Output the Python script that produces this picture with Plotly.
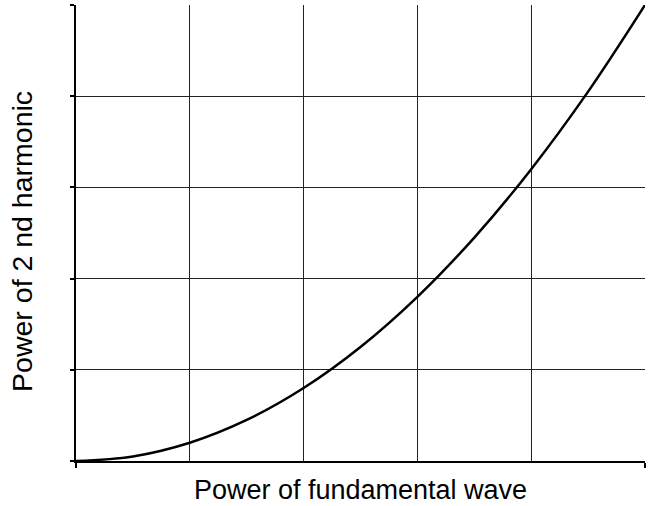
import plotly.graph_objects as go

fundamental_power = [0, 0.5, 1.0, 1.5, 2.0, 2.5, 3.0, 3.5, 4.0, 4.5, 5.0]
harmonic_power = [0, 0.05, 0.2, 0.45, 0.8, 1.25, 1.8, 2.45, 3.2, 4.05, 5.0]

x_title = "Power of fundamental wave"
y_title = "Power of 2 nd harmonic"

fig = go.Figure()
fig.add_trace(go.Scatter(
    x=fundamental_power, y=harmonic_power, mode="lines",
    line=dict(color="black", width=2.5, shape="spline"),
    hoverinfo="skip", showlegend=False,
))

family = "Liberation Sans, Arial, Helvetica, sans-serif"
font = dict(family=family, size=27, color="black")

fig.update_layout(
    width=653, height=506,
    margin=dict(l=76, r=8, t=5, b=45),
    paper_bgcolor="white", plot_bgcolor="white",
    font=font,
    xaxis=dict(
        range=[0, 5], tickvals=[0, 5], showticklabels=False,
        ticks="outside", ticklen=5, tickwidth=1.5, tickcolor="black",
        showgrid=True, gridcolor="#222", gridwidth=1,
        minor=dict(tickvals=[1, 2, 3, 4], showgrid=True, gridcolor="#222", gridwidth=1, ticks=""),
        showline=True, linecolor="black", linewidth=1.5,
        zeroline=False, fixedrange=True, automargin=False,
        title=dict(text=x_title, font=font, standoff=13),
    ),
    yaxis=dict(
        range=[0, 5], dtick=1, showticklabels=False,
        ticks="outside", ticklen=4, tickwidth=1.5, tickcolor="black",
        showgrid=True, gridcolor="#222", gridwidth=1,
        showline=True, linecolor="black", linewidth=1.5,
        zeroline=False, fixedrange=True, automargin=False,
    ),
    annotations=[dict(
        text=y_title, textangle=-90, showarrow=False,
        xref="paper", yref="paper", x=-0.095, y=0.4825,
        xanchor="center", yanchor="middle",
        font=dict(family=family, size=28.5, color="black"),
    )],
)

fig.write_html("out.html", config={"displayModeBar": False},
               post_script="document.body.style.margin='0';")
